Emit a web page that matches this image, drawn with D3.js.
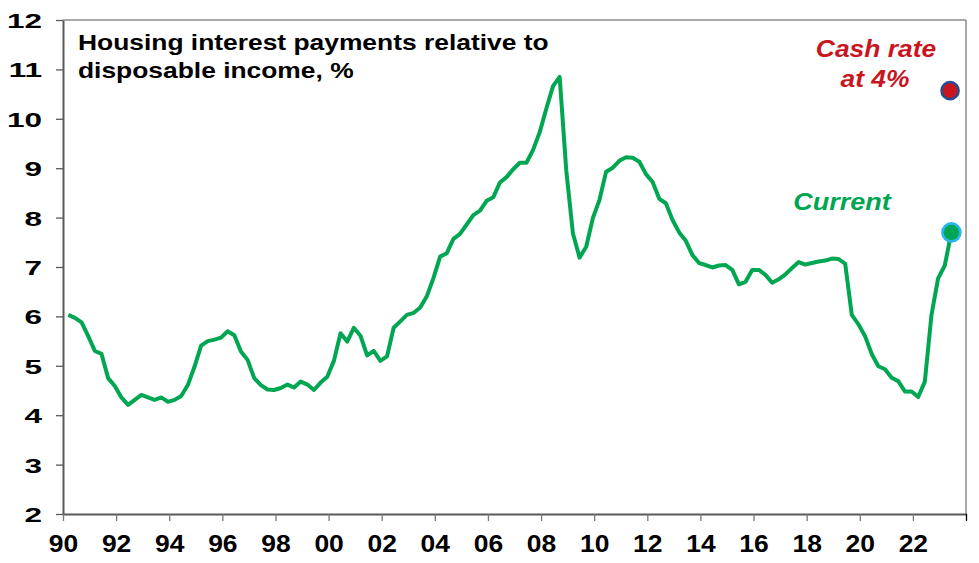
<!DOCTYPE html>
<html>
<head>
<meta charset="utf-8">
<script src="https://cdn.jsdelivr.net/npm/d3@7"></script>
<style>
  html, body { margin: 0; padding: 0; background: #fff; }
  svg { display: block; }
</style>
</head>
<body>
<svg id="chart" width="979" height="563"></svg>
<script>
// ---------------- DATA ----------------
// Quarterly housing interest payments relative to disposable income (%), from early 1990
const startYear = 1990.2;
const values = [
  6.03, 5.97, 5.88, 5.60, 5.30, 5.24, 4.75, 4.59, 4.36, 4.21,
  4.31, 4.41, 4.36, 4.31, 4.36, 4.27, 4.31, 4.39, 4.61, 4.98,
  5.41, 5.50, 5.53, 5.57, 5.70, 5.62, 5.29, 5.12, 4.75, 4.61,
  4.52, 4.51, 4.55, 4.62, 4.56, 4.68, 4.62, 4.51, 4.66, 4.78,
  5.10, 5.66, 5.49, 5.77, 5.61, 5.21, 5.30, 5.10, 5.19, 5.77,
  5.90, 6.03, 6.07, 6.18, 6.41, 6.78, 7.21, 7.28, 7.57, 7.67,
  7.86, 8.05, 8.14, 8.34, 8.41, 8.71, 8.82, 8.98, 9.11, 9.11,
  9.37, 9.73, 10.21, 10.66, 10.85, 8.95, 7.68, 7.19, 7.41, 7.99,
  8.36, 8.93, 9.01, 9.15, 9.22, 9.21, 9.13, 8.88, 8.72, 8.38,
  8.29, 7.95, 7.70, 7.53, 7.24, 7.08, 7.04, 6.99, 7.03, 7.04,
  6.94, 6.65, 6.70, 6.94, 6.94, 6.84, 6.68, 6.75, 6.85, 6.98,
  7.10, 7.05, 7.08, 7.11, 7.13, 7.17, 7.16, 7.07, 6.03, 5.84,
  5.60, 5.24, 4.99, 4.93, 4.76, 4.69, 4.48, 4.48, 4.37, 4.68,
  6.03, 6.77, 7.03, 7.70
];
const cashRateScenario = { year: 2023.4, value: 10.57 };
const yTicks = [2, 3, 4, 5, 6, 7, 8, 9, 10, 11, 12];
const xTicks = [1990, 1992, 1994, 1996, 1998, 2000, 2002, 2004, 2006, 2008, 2010, 2012, 2014, 2016, 2018, 2020, 2022, 2024];
const xTickLabels = ["90", "92", "94", "96", "98", "00", "02", "04", "06", "08", "10", "12", "14", "16", "18", "20", "22", ""];
const titleLines = ["Housing interest payments relative to", "disposable income, %"];
const cashLabel = ["Cash rate", "at 4%"];
const currentLabel = "Current";

// ---------------- LAYOUT ----------------
const FONT = "'Liberation Sans', Arial, Helvetica, sans-serif";
const GREEN = "#00A651";
const RED = "#C8161E";
const plotL = 63, plotR = 966, plotT = 20, plotB = 514;

const svg = d3.select("#chart");
const x = d3.scaleLinear().domain([1990, 2024]).range([plotL, plotR]);
const y = d3.scaleLinear().domain([2, 12]).range([plotB, plotT]);

const series = values.map((v, i) => ({ t: startYear + 0.25 * i, v }));

// frame (top & right)
svg.append("line").attr("x1", plotL).attr("x2", plotR).attr("y1", plotT).attr("y2", plotT)
  .attr("stroke", "#8c8c8c").attr("stroke-width", 1.5);
svg.append("line").attr("x1", plotR).attr("x2", plotR).attr("y1", plotT).attr("y2", plotB)
  .attr("stroke", "#8c8c8c").attr("stroke-width", 1.5);

// y axis
const ySX = 1.5;
const yAxis = svg.append("g").attr("transform", `translate(${plotL},0)`)
  .call(d3.axisLeft(y).tickValues(yTicks).tickSize(7).tickSizeOuter(0).tickFormat(d3.format("d")));
yAxis.select(".domain").attr("stroke", "#595959").attr("stroke-width", 2);
yAxis.selectAll(".tick line").attr("stroke", "#595959").attr("stroke-width", 1.3);
yAxis.selectAll(".tick text")
  .attr("x", -21 / ySX).attr("dy", "0.36em")
  .attr("transform", `scale(${ySX},1)`)
  .attr("font-family", FONT).attr("font-weight", "bold").attr("font-size", 21).attr("fill", "#000");

// x axis
const xAxis = svg.append("g").attr("transform", `translate(0,${plotB})`)
  .call(d3.axisBottom(x).tickValues(xTicks).tickSize(7).tickSizeOuter(0)
    .tickFormat((d, i) => xTickLabels[i]));
xAxis.select(".domain").attr("stroke", "#595959").attr("stroke-width", 2);
xAxis.selectAll(".tick line").attr("stroke", "#777").attr("stroke-width", 1.3);
xAxis.selectAll(".tick").filter(d => d === 2024).select("line").attr("stroke", "#000");
xAxis.selectAll(".tick text")
  .attr("y", 38).attr("dy", null)
  .attr("transform", "scale(1.15,1)")
  .attr("font-family", FONT).attr("font-weight", "bold").attr("font-size", 23).attr("fill", "#000");

// line
const line = d3.line().x(d => x(d.t)).y(d => y(d.v));
svg.append("path").datum(series)
  .attr("d", line).attr("fill", "none")
  .attr("stroke", GREEN).attr("stroke-width", 4).attr("stroke-linejoin", "round");

// markers
const last = series[series.length - 1];
svg.append("circle").attr("cx", x(last.t)).attr("cy", y(last.v)).attr("r", 9)
  .attr("fill", GREEN).attr("stroke", "#29B5EE").attr("stroke-width", 2.6);
svg.append("circle").attr("cx", x(cashRateScenario.year)).attr("cy", y(cashRateScenario.value)).attr("r", 8.6)
  .attr("fill", RED).attr("stroke", "#1F4E96").attr("stroke-width", 2.4);

// text helper
function label(str, px, py, size, sx, anchor, color, italic) {
  const g = svg.append("g").attr("transform", `translate(${px},${py}) scale(${sx},1)`);
  g.append("text").text(str)
    .attr("text-anchor", anchor)
    .attr("font-family", FONT).attr("font-weight", "bold")
    .attr("font-style", italic ? "italic" : "normal")
    .attr("font-size", size).attr("fill", color);
}

// title
label(titleLines[0], 78, 50, 22, 1.2, "start", "#000", false);
label(titleLines[1], 78, 78, 22, 1.2, "start", "#000", false);

// annotations
label(cashLabel[0], 876, 57, 24, 1.1, "middle", RED, true);
label(cashLabel[1], 875, 87, 24, 1.1, "middle", RED, true);
label(currentLabel, 842, 210, 24.5, 1.1, "middle", GREEN, true);
</script>
</body>
</html>
